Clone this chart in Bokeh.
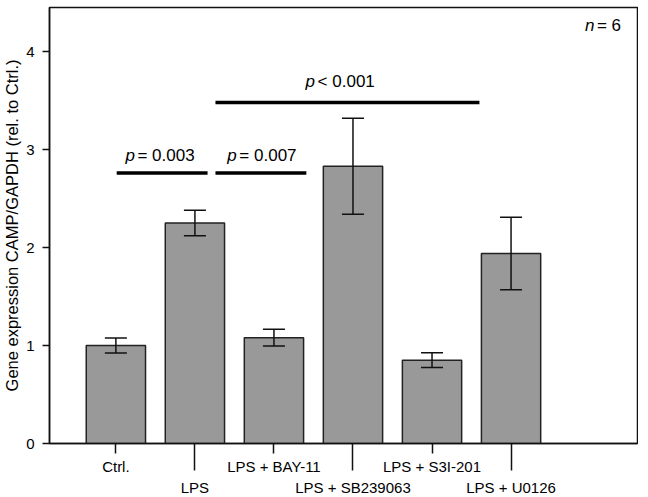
from bokeh.plotting import figure
from bokeh.models import Range1d, FixedTicker, Label, Whisker, ColumnDataSource, TeeHead, LinearAxis
from bokeh.embed import file_html
from bokeh.resources import INLINE

# ---- data ----
categories = ["Ctrl.", "LPS", "LPS + BAY-11", "LPS + SB239063", "LPS + S3I-201", "LPS + U0126"]
means = [1.00, 2.25, 1.08, 2.83, 0.85, 1.94]
errors = [0.077, 0.13, 0.085, 0.49, 0.075, 0.37]
y_ticks = [0, 1, 2, 3, 4]

# significance brackets (x from, x to, height) and texts
sig_x0 = [1.01, 2.26, 2.26]
sig_x1 = [2.16, 3.41, 5.60]
sig_y = [2.76, 2.76, 3.48]
sig_text_x = [1.50, 2.79, 3.78]
sig_text_y = [2.94, 2.94, 3.69]
sig_text = ["= 0.003", "= 0.007", "< 0.001"]
n_text = "= 6"

FONT = "Liberation Sans"
xs = list(range(1, len(categories) + 1))
row1 = xs[0::2]   # labels just below the axis
row2 = xs[1::2]   # labels on the second row

src = ColumnDataSource(dict(
    x=xs, top=means,
    upper=[m + e for m, e in zip(means, errors)],
    lower=[m - e for m, e in zip(means, errors)],
))

p = figure(frame_width=588, frame_height=436,
           min_border_left=43, min_border_right=1, min_border_top=7, min_border_bottom=10,
           x_range=Range1d(0.16, 7.60), y_range=Range1d(0, 4.45),
           output_backend="svg", toolbar_location=None)

p.outline_line_color = "#111111"
p.outline_line_width = 1.5
p.xgrid.visible = False
p.ygrid.visible = False
p.background_fill_color = "white"
p.border_fill_color = "white"

# bars
p.vbar(x="x", top="top", width=0.75, source=src, fill_color="#999999",
       line_color="#222222", line_width=1.5)

# error bars
w = Whisker(base="x", upper="upper", lower="lower", source=src, level="overlay",
            line_color="#111111", line_width=1.5,
            upper_head=TeeHead(size=22, line_width=1.5, line_color="#111111"),
            lower_head=TeeHead(size=22, line_width=1.5, line_color="#111111"))
p.add_layout(w)

# significance bars
p.segment(x0=sig_x0, x1=sig_x1, y0=sig_y, y1=sig_y, line_color="black", line_width=3.5)
for tx, ty, t in zip(sig_text_x, sig_text_y, sig_text):
    p.add_layout(Label(x=tx, y=ty, x_offset=-30, text="p", text_font=FONT,
                       text_font_style="italic", text_font_size="17px",
                       text_align="left", text_baseline="middle", text_color="black"))
    p.add_layout(Label(x=tx, y=ty, x_offset=-18, text=t, text_font=FONT,
                       text_font_size="17px",
                       text_align="left", text_baseline="middle", text_color="black"))

# n = 6
p.add_layout(Label(x=6.935, y=4.266, text="n", text_font=FONT, text_font_style="italic",
                   text_font_size="17px", text_align="left", text_baseline="middle",
                   text_color="black"))
p.add_layout(Label(x=6.935, y=4.266, x_offset=12, text=n_text, text_font=FONT,
                   text_font_size="17px", text_align="left", text_baseline="middle",
                   text_color="black"))

# y axis
ya = p.yaxis[0]
ya.ticker = FixedTicker(ticks=y_ticks, minor_ticks=[])
ya.axis_label = "Gene expression CAMP/GAPDH (rel. to Ctrl.)"
ya.axis_label_text_font = FONT
ya.axis_label_text_font_style = "normal"
ya.axis_label_text_font_size = "16.5px"
ya.axis_label_text_color = "black"
ya.axis_label_standoff = 2
ya.major_label_text_font = FONT
ya.major_label_text_font_size = "15px"
ya.major_label_text_color = "black"
ya.major_label_standoff = 8
ya.major_tick_out = 7
ya.major_tick_in = 0
ya.major_tick_line_width = 1.5
ya.axis_line_width = 1.5
ya.axis_line_color = "#111111"
ya.major_tick_line_color = "#111111"

# x axis: short ticks + first-row labels (major), long ticks for second row (minor)
xa = p.xaxis[0]
xa.ticker = FixedTicker(ticks=row1, minor_ticks=row2)
xa.major_label_overrides = {x: categories[x - 1] for x in row1}
xa.major_label_text_font = FONT
xa.major_label_text_font_size = "15px"
xa.major_label_text_color = "black"
xa.major_label_standoff = -13
xa.major_tick_out = 10
xa.major_tick_in = 0
xa.minor_tick_out = 27
xa.minor_tick_in = 0
xa.major_tick_line_width = 1.5
xa.minor_tick_line_width = 1.5
xa.axis_line_width = 1.5
xa.axis_line_color = "#111111"
xa.major_tick_line_color = "#111111"
xa.minor_tick_line_color = "#111111"

# second row of category labels
xb = LinearAxis(ticker=FixedTicker(ticks=row2, minor_ticks=[]))
xb.major_label_overrides = {x: categories[x - 1] for x in row2}
xb.major_label_text_font = FONT
xb.major_label_text_font_size = "15px"
xb.major_label_text_color = "black"
xb.major_label_standoff = 1
xb.major_tick_out = 0
xb.major_tick_in = 0
xb.major_tick_line_color = None
xb.minor_tick_line_color = None
xb.axis_line_color = None
p.add_layout(xb, "below")

open("out.html", "w").write(file_html(p, INLINE))
